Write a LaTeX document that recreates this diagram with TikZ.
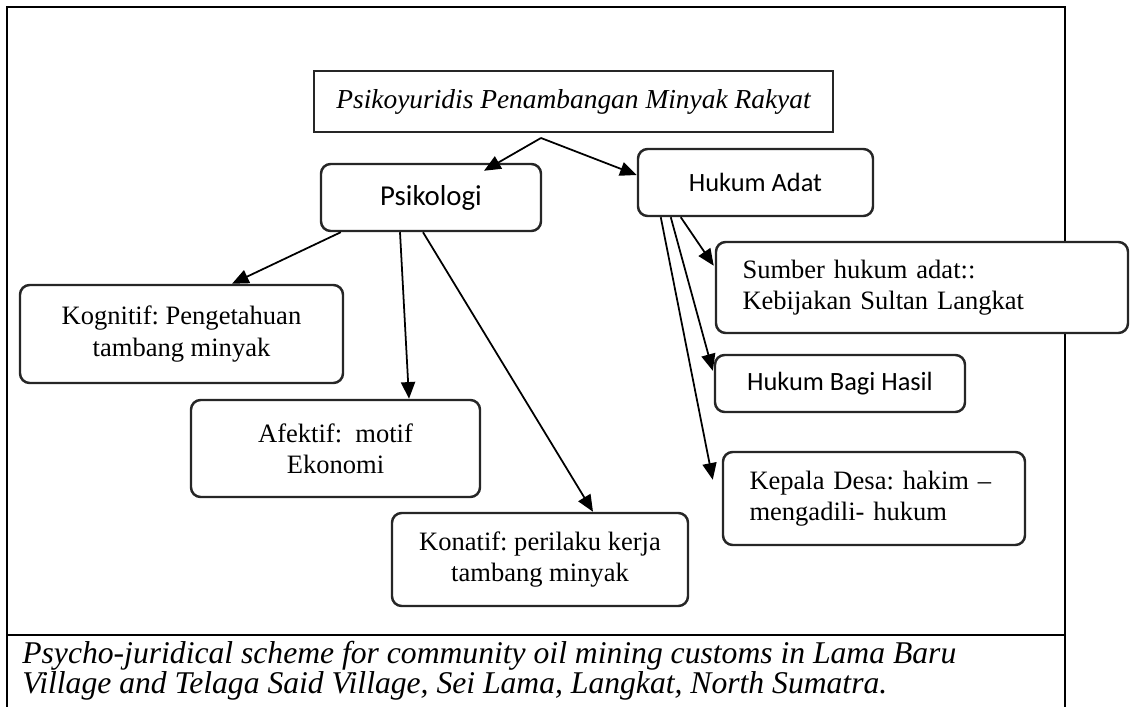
\documentclass[tikz,border=0pt]{standalone}
\usepackage{fontspec}
\setmainfont{Liberation Serif}
\newfontfamily\calibri{Carlito}
\usetikzlibrary{calc,arrows.meta,positioning}
\tikzset{
  frm/.style={line width=1.2pt,black},
  box/.style={draw=black!85,line width=1.4pt,fill=white,inner sep=0pt,align=center,font=\fontsize{15.1}{17.8}\selectfont},
  rbox/.style={box,rounded corners=5.5pt},
  sans/.style={font=\calibri\fontsize{15}{18}\selectfont},
  lbox/.style={rbox,align=left,inner xsep=5.3mm},
  arr/.style={-{Triangle[length=9.5pt,width=8pt]},line width=1pt,black},
  captxt/.style={anchor=base west,inner sep=0pt,font=\itshape\fontsize{18}{20}\selectfont},
}
\begin{document}
\frenchspacing
\begin{tikzpicture}[x=0.2mm,y=-0.2mm]
  \useasboundingbox (0,0) rectangle (1130,707);
  % ---------------- frame and caption rule
  \draw[frm] (7,707) -- (7,7) -- (1065,7) -- (1065,707);
  \draw[frm] (7,635) -- (1065,635);
  % ---------------- top of the scheme
  \node[box,minimum width=103.8mm,minimum height=12.2mm,font=\itshape\fontsize{15.6}{18}\selectfont] (ttl) at (573.5,101.5) {Psikoyuridis Penambangan Minyak Rakyat};
  \node[rbox,sans,font=\calibri\fontsize{16.4}{19}\selectfont,minimum width=44mm,minimum height=13.4mm] (psi) at (431,197.5) {Psikologi};
  \node[rbox,sans,minimum width=47mm,minimum height=13.4mm] (adat) at (755.5,182.5) {Hukum Adat};
  \coordinate (apex) at (541,138);
  \draw[arr] (apex) -- ($(psi.north)+(53,8)$);
  \draw[arr] (apex) -- ($(adat.west)+(0,-7.5)$);
  % ---------------- psikologi branch
  \node[rbox,minimum width=64.6mm,minimum height=19.6mm] (kog) at (181.5,334) {Kognitif: Pengetahuan\\tambang minyak};
  \node[rbox,minimum width=57.8mm,minimum height=19.4mm] (afe) at (335.5,448.5) {Afektif: \ motif\\Ekonomi};
  \node[rbox,minimum width=59.2mm,minimum height=18.6mm] (kon) at (540,559.5) {Konatif: perilaku kerja\\tambang minyak};
  \draw[arr] ($(psi.south west)+(21,0)$) -- ($(kog.north)+(50.5,0)$);
  \draw[arr] ($(psi.south)+(-31,0)$) -- ($(afe.north)+(73.5,0)$);
  \draw[arr] ($(psi.south)+(-8,0)$) -- ($(kon.north)+(53,0)$);
  % ---------------- hukum adat branch
  \node[lbox,text width=71.8mm,minimum height=18.2mm] (sumber) at (922,287.5) {Sumber hukum adat::\\Kebijakan Sultan Langkat};
  \node[rbox,sans,minimum width=50mm,minimum height=11.4mm] (bagi) at (840,383.5) {Hukum Bagi Hasil};
  \node[lbox,text width=49.8mm,minimum height=18.6mm] (desa) at (874,498.5) {Kepala Desa: hakim --\\mengadili- hukum};
  \draw[arr] ($(adat.south west)+(44,0)$) -- ($(sumber.north west)+(-1,25)$);
  \draw[arr] ($(adat.south west)+(34,0)$) -- ($(bagi.north west)+(-1,17)$);
  \draw[arr] ($(adat.south west)+(24,0)$) -- ($(desa.north west)+(-9,29)$);
  % ---------------- caption
  \node[captxt] (capA) at (22,663) {Psycho-juridical scheme for community oil mining customs in Lama Baru};
  \node[captxt] (capB) at (22,693) {Village and Telaga Said Village, Sei Lama, Langkat, North Sumatra.};
\end{tikzpicture}
\end{document}
